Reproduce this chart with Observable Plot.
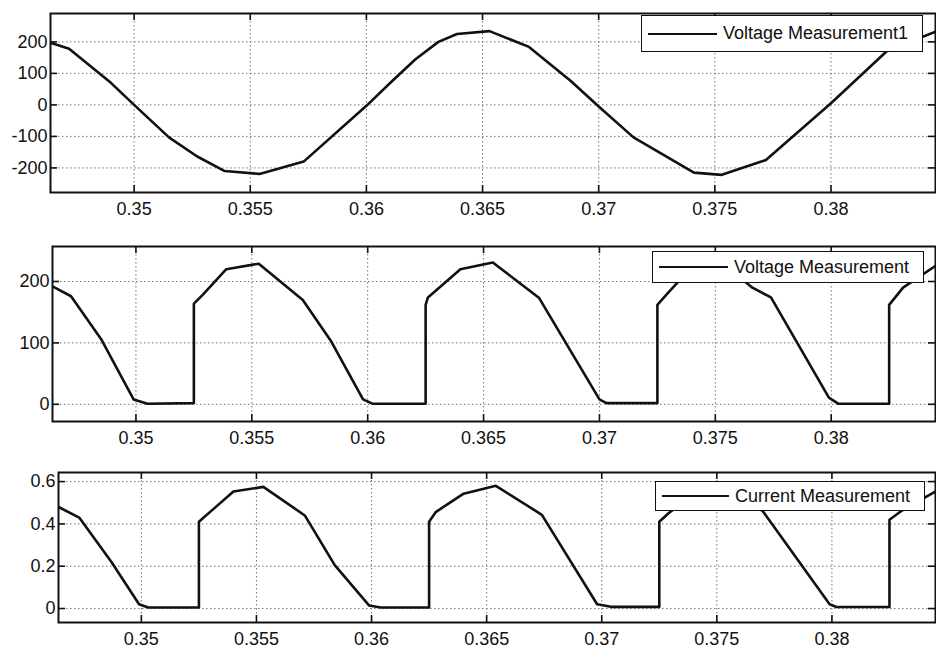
<!DOCTYPE html>
<html><head><meta charset="utf-8">
<script src="https://cdn.jsdelivr.net/npm/d3@7"></script>
<script src="https://cdn.jsdelivr.net/npm/@observablehq/plot@0.6"></script>
<style>
body{margin:0;background:#fff;}
#wrap{position:relative;width:936px;height:655px;overflow:hidden;font-family:"Liberation Sans",Arial,sans-serif;background:#fff;}
.panel{position:absolute;left:0;}
.legend{position:absolute;background:#fff;border:1.5px solid #111;box-sizing:border-box;display:flex;align-items:center;font-size:18px;color:#111;white-space:nowrap;}
.legend .sw{display:inline-block;height:0;border-top:2px solid #111;margin:0 6px 0 6px;}
</style></head><body><div id="wrap"></div>
<script>
// ---- data ----
const xTicks = [0.35, 0.355, 0.36, 0.365, 0.37, 0.375, 0.38];
const xDomain = [0.3464, 0.3845];

const v1Label = "Voltage Measurement1";
const v1Time = [0.3464, 0.3472, 0.3490, 0.3500, 0.3515, 0.3527, 0.3539, 0.3554, 0.3573, 0.3600, 0.3611, 0.3621, 0.3631, 0.3639, 0.3653, 0.3670, 0.3688, 0.3700, 0.3715, 0.3741, 0.3753, 0.3772, 0.3800, 0.3824, 0.3846];
const v1Value = [197, 178, 70, 0, -103, -163, -210, -219, -180, -3, 75, 144, 200, 225, 234, 184, 76, -5, -103, -215, -222, -175, 5, 170, 235];
const v1YTicks = [-200, -100, 0, 100, 200];
const v1YDomain = [-278, 290];

const v2Label = "Voltage Measurement";
const v2Time = [0.3464, 0.3472, 0.3485, 0.3493, 0.3499, 0.3505, 0.3525, 0.3525, 0.3529, 0.3539, 0.3553, 0.3572, 0.3584, 0.3598, 0.3602, 0.3625, 0.3625, 0.3626, 0.3640, 0.3654, 0.3674, 0.3700, 0.3703, 0.3725, 0.3725, 0.3729, 0.3739, 0.3753, 0.3766, 0.3774, 0.3799, 0.3803, 0.3825, 0.3825, 0.3831, 0.3846];
const v2Value = [192, 176, 106, 50, 8, 1, 2, 164, 179, 220, 229, 170, 104, 8, 1, 1, 162, 174, 220, 231, 173, 8, 2, 2, 162, 179, 220, 230, 190, 174, 11, 1, 1, 162, 190, 228];
const v2YTicks = [0, 100, 200];
const v2YDomain = [-28, 257];

const iLabel = "Current Measurement";
const iTime = [0.3464, 0.3473, 0.3487, 0.3499, 0.3503, 0.3525, 0.3525, 0.3532, 0.3540, 0.3553, 0.3571, 0.3584, 0.3599, 0.3604, 0.3625, 0.3625, 0.3628, 0.3640, 0.3654, 0.3674, 0.3698, 0.3704, 0.3725, 0.3725, 0.3729, 0.3740, 0.3754, 0.3770, 0.3799, 0.3802, 0.3825, 0.3825, 0.3830, 0.3846];
const iValue = [0.48, 0.43, 0.22, 0.02, 0.005, 0.005, 0.41, 0.477, 0.553, 0.575, 0.44, 0.205, 0.014, 0.005, 0.005, 0.41, 0.457, 0.543, 0.58, 0.443, 0.02, 0.008, 0.008, 0.41, 0.45, 0.54, 0.58, 0.46, 0.02, 0.007, 0.007, 0.42, 0.46, 0.56];
const iYTicks = [0, 0.2, 0.4, 0.6];
const iYDomain = [-0.066, 0.643];

// ---- drawing ----
const W = 936;
const wrap = document.getElementById("wrap");
const fmt = d => String(+d.toFixed(3));

function panel(time, value, yDomain, yTicks, o) {
  const data = time.map((t, i) => ({t, v: value[i]}));
  const fh = o.height - o.mt - o.mb;
  const fw = W - o.ml - o.mr;
  const grid = {stroke: "#666", strokeOpacity: 0.9, strokeWidth: 1, strokeDasharray: "1.5,2.5"};
  const svg = Plot.plot({
    width: W, height: o.height,
    marginTop: o.mt, marginBottom: o.mb, marginLeft: o.ml, marginRight: o.mr,
    style: {fontFamily: '"Liberation Sans", Arial, sans-serif', fontSize: "18px", color: "#111", background: "transparent", overflow: "visible"},
    x: {domain: xDomain, label: null},
    y: {domain: yDomain, label: null},
    marks: [
      Plot.gridX(xTicks, grid),
      Plot.gridY(yTicks, grid),
      Plot.ruleX(xTicks, {x: d => d, insetTop: fh - 7, stroke: "#111", strokeWidth: 1.6}),
      Plot.ruleX(xTicks, {x: d => d, insetBottom: fh - 7, stroke: "#111", strokeWidth: 1.6}),
      Plot.ruleY(yTicks, {y: d => d, insetRight: fw - 7, stroke: "#111", strokeWidth: 1.6}),
      Plot.ruleY(yTicks, {y: d => d, insetLeft: fw - 7, stroke: "#111", strokeWidth: 1.6}),
      Plot.line(data, {x: "t", y: "v", stroke: "#111", strokeWidth: 2.6, clip: true}),
      Plot.frame({stroke: "#111", strokeWidth: 2}),
      Plot.axisX(xTicks, {tickSize: 0, tickPadding: 10, tickFormat: fmt, fontSize: 18, label: null}),
      Plot.axisY(yTicks, {tickSize: 0, tickPadding: 3, tickFormat: fmt, fontSize: 18, label: null})
    ]
  });
  svg.classList.add("panel");
  svg.style.top = o.top + "px";
  wrap.appendChild(svg);
  const lg = document.createElement("div");
  lg.className = "legend";
  Object.assign(lg.style, {left: o.lg[0] + "px", top: o.lg[1] + "px", width: o.lg[2] + "px", height: o.lg[3] + "px"});
  const sw = document.createElement("span");
  sw.className = "sw";
  sw.style.width = o.sw + "px";
  lg.appendChild(sw);
  const tx = document.createElement("span");
  tx.textContent = o.label;
  lg.appendChild(tx);
  wrap.appendChild(lg);
}

panel(v1Time, v1Value, v1YDomain, v1YTicks, {top: 0, height: 228, mt: 13, mb: 36, ml: 50, mr: 1, label: v1Label, lg: [641, 15, 282, 37], sw: 69});
panel(v2Time, v2Value, v2YDomain, v2YTicks, {top: 228, height: 220, mt: 18, mb: 27, ml: 52, mr: 1, label: v2Label, lg: [652, 251, 272, 32], sw: 69});
panel(iTime, iValue, iYDomain, iYTicks, {top: 448, height: 207, mt: 24, mb: 33, ml: 58, mr: 1, label: iLabel, lg: [655, 481, 270, 30], sw: 67});
</script></body></html>
